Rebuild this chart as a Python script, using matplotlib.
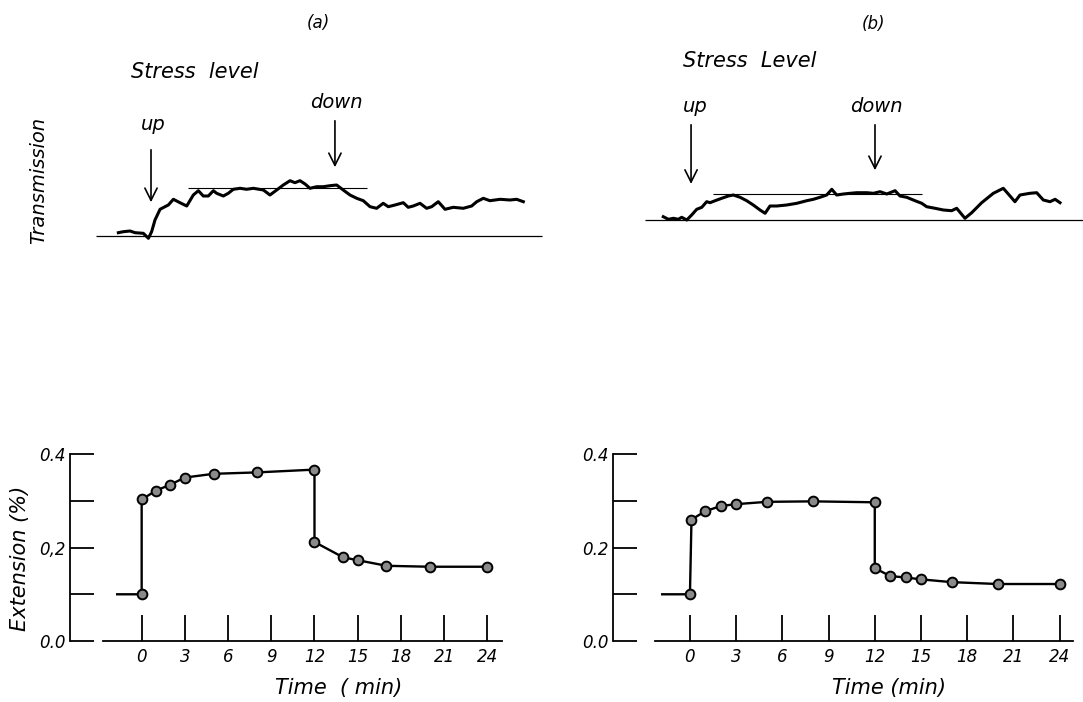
import matplotlib
matplotlib.use("Agg")
import matplotlib.pyplot as plt

# ---- top traces: time (min) vs transmission (arbitrary units above baseline)
trans_a_t = [-2.13, -1.81, -1.37, -1.04, -0.50, -0.17, 0.04, 0.26, 0.59, 0.91,
             1.13, 1.46, 1.89, 2.33, 2.76, 3.09, 3.41, 3.74, 4.07, 4.28,
             4.72, 5.04, 5.37, 5.81, 6.24, 6.67, 7.33, 7.76, 8.20, 8.63,
             9.07, 9.39, 9.72, 10.05, 10.37, 10.81, 11.24, 11.68, 12.11, 12.54,
             12.98, 13.42, 13.85, 14.29, 14.72, 15.15, 15.48, 15.92, 16.46, 16.78,
             17.11, 17.55, 17.98, 18.31, 18.74, 19.18, 19.72, 20.37, 20.92, 21.25,
             21.68, 22.11, 22.77, 23.42, 23.85, 24.29]
trans_a_v = [0.33, 0.43, 0.50, 0.33, 0.27, -0.23, 0.43, 1.60, 2.67, 2.93,
             3.10, 3.67, 3.33, 3.00, 4.10, 4.53, 4.00, 4.00, 4.53, 4.27,
             4.00, 4.27, 4.67, 4.77, 4.67, 4.77, 4.60, 4.10, 4.60, 5.10,
             5.53, 5.33, 5.53, 5.20, 4.77, 4.93, 4.93, 5.03, 5.10, 4.60,
             4.10, 3.77, 3.53, 2.93, 2.77, 3.27, 2.93, 3.10, 3.33, 2.87,
             3.00, 3.27, 2.77, 2.93, 3.43, 2.67, 2.87, 2.77, 3.00, 3.43,
             3.77, 3.53, 3.67, 3.60, 3.67, 3.43]
plateau_a = 4.8

trans_b_t = [-1.81, -1.48, -1.15, -0.83, -0.61, -0.28, 0.04, 0.37, 0.70, 1.02,
             1.24, 1.57, 2.00, 2.43, 2.76, 3.20, 3.63, 4.06, 4.50, 4.83,
             5.15, 5.59, 6.24, 6.90, 7.55, 7.98, 8.41, 8.85, 9.18, 9.50,
             9.94, 10.37, 10.81, 11.46, 11.90, 12.33, 12.77, 13.31, 13.63, 14.07,
             14.61, 15.05, 15.37, 15.92, 16.46, 17.00, 17.33, 17.87, 18.31, 18.96,
             19.72, 20.37, 20.81, 21.13, 21.46, 22.11, 22.55, 22.98, 23.42, 23.75,
             24.07]
trans_b_v = [0.33, 0.07, 0.17, 0.07, 0.27, 0.00, 0.50, 1.07, 1.27, 1.83,
             1.73, 1.93, 2.17, 2.40, 2.50, 2.27, 1.93, 1.50, 1.00, 0.67,
             1.40, 1.40, 1.50, 1.67, 1.93, 2.07, 2.27, 2.50, 3.07, 2.50,
             2.60, 2.67, 2.73, 2.73, 2.67, 2.83, 2.60, 2.93, 2.40, 2.27,
             1.93, 1.67, 1.33, 1.17, 1.00, 0.93, 1.17, 0.17, 0.73, 1.73,
             2.67, 3.17, 2.40, 1.83, 2.50, 2.67, 2.73, 2.00, 1.83, 2.07,
             1.73]
plateau_b = 2.57

stress_up = 0
stress_down = 12

# ---- bottom: extension (%) vs time (min)
ext_a_t = [-1.7, 0, 0, 1, 2, 3, 5, 8, 12, 12, 14, 15, 17, 20, 24]
ext_a_v = [0.10, 0.10, 0.303, 0.322, 0.335, 0.350, 0.358, 0.361, 0.367,
           0.212, 0.179, 0.173, 0.161, 0.159, 0.159]
ext_b_t = [-1.8, 0, 0.1, 1, 2, 3, 5, 8, 12, 12, 13, 14, 15, 17, 20, 24]
ext_b_v = [0.10, 0.10, 0.260, 0.278, 0.289, 0.293, 0.298, 0.299, 0.297,
           0.156, 0.139, 0.136, 0.132, 0.126, 0.122, 0.122]

time_ticks = [0, 3, 6, 9, 12, 15, 18, 21, 24]
ext_ticks = [0.0, 0.1, 0.2, 0.3, 0.4]
ext_labels_a = ["0.0", "", "0,2", "", "0.4"]
ext_labels_b = ["0.0", "", "0.2", "", "0.4"]

W, H = 1083, 702
plt.rcParams["font.family"] = "DejaVu Sans"
plt.rcParams["font.style"] = "italic"
fig = plt.figure(figsize=(W / 100, H / 100), dpi=100)


def box(x0, y0, x1, y1):
    # pixel box -> figure fraction rect
    return [x0 / W, 1 - y1 / H, (x1 - x0) / W, (y1 - y0) / H]


def ftext(x, y, s, **kw):
    fig.text(x / W, 1 - y / H, s, ha="center", va="center", **kw)


def top_panel(rect, xlim, ylim, t, v, plateau, pl_span, base_span, up_y, down_y):
    ax = fig.add_axes(rect)
    ax.set_xlim(*xlim)
    ax.set_ylim(*ylim)
    ax.axis("off")
    ax.hlines(0, base_span[0], base_span[1], color="black", lw=0.9)
    ax.hlines(plateau, pl_span[0], pl_span[1], color="black", lw=0.8)
    ax.plot(t, v, color="black", lw=2.2, solid_joinstyle="round")
    arrow = dict(arrowstyle="->", color="black", lw=1.2, mutation_scale=22)
    ax.annotate("", xy=(stress_up, up_y[1]), xytext=(stress_up, up_y[0]), arrowprops=arrow)
    ax.annotate("", xy=(stress_down, down_y[1]), xytext=(stress_down, down_y[0]), arrowprops=arrow)
    return ax


top_panel(box(90, 60, 550, 250), (-3.98, 26.03), (-1.4, 17.6),
          trans_a_t, trans_a_v, plateau_a, (2.43, 14.07), (-3.6, 25.5),
          (8.9, 3.1), (11.8, 6.6))
top_panel(box(640, 60, 1083, 250), (-3.33, 25.57), (-3.0, 16.0),
          trans_b_t, trans_b_v, plateau_b, (1.46, 15.05), (-3.0, 25.57),
          (9.8, 3.33), (9.8, 4.7))


def bottom_panel(rect, xlim, t, v, labels, xspan):
    ax = fig.add_axes(rect)
    ax.set_xlim(*xlim)
    ax.set_ylim(-0.0086, 0.4304)
    ax.patch.set_visible(False)
    for s in ["top", "right"]:
        ax.spines[s].set_visible(False)
    ax.spines["left"].set_position(("data", -5))
    ax.spines["left"].set_bounds(0, 0.4)
    ax.spines["bottom"].set_position(("data", 0))
    ax.spines["bottom"].set_bounds(*xspan)
    for s in ["left", "bottom"]:
        ax.spines[s].set_linewidth(1.3)
    ax.set_xticks(time_ticks)
    ax.set_xticklabels([str(k) for k in time_ticks])
    ax.set_yticks(ext_ticks)
    ax.set_yticklabels(labels)
    ax.tick_params(axis="x", direction="in", length=19, width=1.3, pad=5, labelsize=12)
    ax.tick_params(axis="y", direction="in", length=17, width=1.3, pad=3, labelsize=12)
    ax.plot(t, v, color="black", lw=1.7, marker="o", ms=7, mfc="#8a8a8a",
            mec="black", mew=1.4, markevery=list(range(1, len(t))))
    return ax


bottom_panel(box(60, 440, 520, 645), (-5.67, 26.27), ext_a_t, ext_a_v,
             ext_labels_a, (-2.7, 25.0))
bottom_panel(box(600, 440, 1083, 645), (-5.84, 25.52), ext_b_t, ext_b_v,
             ext_labels_b, (-2.3, 24.9))

# ---- labels
ftext(318, 23, "(a)", fontsize=12)
ftext(873, 24, "(b)", fontsize=12)
ftext(195, 72, "Stress  level", fontsize=15)
ftext(750, 61, "Stress  Level", fontsize=15)
ftext(153, 124, "up", fontsize=14)
ftext(336, 103, "down", fontsize=14)
ftext(695, 107, "up", fontsize=14)
ftext(876, 107, "down", fontsize=14)
ftext(39, 180, "Transmission", fontsize=14, rotation=90)
ftext(20, 558, "Extension (%)", fontsize=15, rotation=90)
ftext(339, 688, "Time  ( min)", fontsize=15)
ftext(889, 688, "Time (min)", fontsize=15)

fig.savefig("out.png", dpi=100)
